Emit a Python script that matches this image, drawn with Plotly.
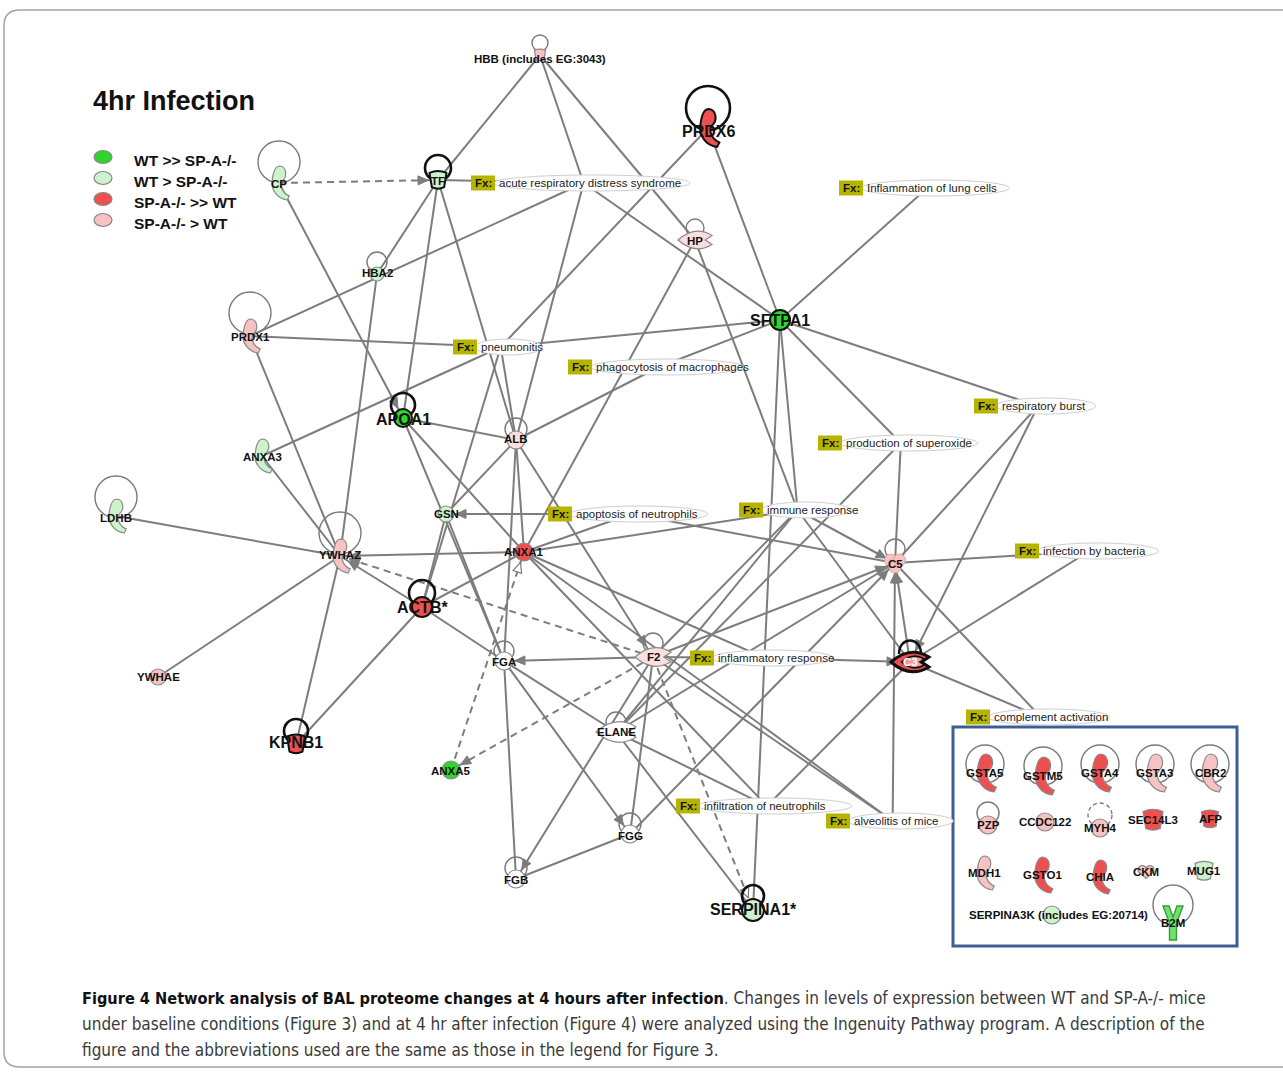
import math
import plotly.graph_objects as go

# ---------------------------------------------------------------------------
# Network content
# ---------------------------------------------------------------------------
gene_names = ["HBB (includes EG:3043)", "PRDX6", "CP", "TF", "HP", "HBA2", "PRDX1",
              "SFTPA1", "APOA1", "ALB", "ANXA3", "LDHB", "GSN", "YWHAZ", "ANXA1",
              "ACTB*", "C5", "F2", "FGA", "C3", "YWHAE", "KPNB1", "ELANE", "ANXA5",
              "FGG", "FGB", "SERPINA1*"]
# expression call: G = WT >> SP-A-/-, g = WT > SP-A-/-, R = SP-A-/- >> WT,
# r = SP-A-/- > WT, p = slightly up in SP-A-/-, n = unchanged
gene_state = ["r", "R", "g", "g", "p", "g", "r", "G", "G", "p", "g", "g", "g", "r",
              "R", "R", "r", "p", "n", "R", "r", "R", "n", "G", "n", "n", "g"]
gene_kind = ["transporter", "enzyme", "enzyme", "transporter", "peptidase", "other",
             "enzyme", "other", "other", "other", "enzyme", "enzyme", "other", "enzyme",
             "other", "other", "cytokine", "peptidase", "other", "complement", "other",
             "transporter", "peptidase", "other", "other", "other", "other"]
focus_genes = ["PRDX6", "TF", "SFTPA1", "APOA1", "ACTB*", "KPNB1", "C3", "SERPINA1*"]

fx_ids = ["ards", "lung", "pneu", "phago", "burst", "superox", "apopt", "immune",
          "bact", "inflam", "compl", "infil", "alveo"]
fx_text = ["acute respiratory distress syndrome", "Inflammation of lung cells",
           "pneumonitis", "phagocytosis of macrophages", "respiratory burst",
           "production of superoxide", "apoptosis of neutrophils", "immune response",
           "infection by bacteria", "inflammatory response", "complement activation",
           "infiltration of neutrophils", "alveolitis of mice"]

# relationships: (source, target, line style, head at target)
edges = [
    ("HBB (includes EG:3043)", "TF", "solid", ""),
    ("HBB (includes EG:3043)", "ards", "solid", ""),
    ("HBB (includes EG:3043)", "HP", "solid", ""),
    ("CP", "TF", "dash", ">"),
    ("CP", "APOA1", "solid", ">"),
    ("TF", "ards", "solid", ""),
    ("TF", "HBA2", "solid", ""),
    ("TF", "APOA1", "solid", ""),
    ("TF", "ALB", "solid", ""),
    ("PRDX1", "ards", "solid", ""),
    ("HBA2", "YWHAZ", "solid", ""),
    ("PRDX6", "pneu", "solid", ""),
    ("PRDX6", "SFTPA1", "solid", ""),
    ("ards", "SFTPA1", "solid", ""),
    ("ards", "ALB", "solid", ""),
    ("lung", "SFTPA1", "solid", ""),
    ("PRDX1", "pneu", "solid", ""),
    ("pneu", "SFTPA1", "solid", ""),
    ("PRDX1", "YWHAZ", "solid", ""),
    ("ANXA3", "pneu", "solid", ""),
    ("ANXA3", "YWHAZ", "solid", ""),
    ("pneu", "ALB", "solid", ""),
    ("pneu", "ACTB*", "solid", ""),
    ("GSN", "ACTB*", "solid", ""),
    ("phago", "ALB", "solid", ""),
    ("phago", "SFTPA1", "solid", ""),
    ("APOA1", "ALB", "solid", ""),
    ("APOA1", "ANXA1", "solid", ""),
    ("APOA1", "FGA", "solid", ""),
    ("ALB", "GSN", "solid", ""),
    ("ALB", "ANXA1", "solid", ""),
    ("ALB", "F2", "solid", ">"),
    ("ALB", "FGA", "solid", ""),
    ("apopt", "GSN", "solid", ">"),
    ("apopt", "C5", "solid", ""),
    ("ANXA1", "apopt", "solid", ""),
    ("ANXA1", "YWHAZ", "solid", ">"),
    ("ACTB*", "YWHAZ", "solid", ">"),
    ("F2", "YWHAZ", "dash", ">"),
    ("ACTB*", "KPNB1", "solid", ""),
    ("YWHAZ", "KPNB1", "solid", ""),
    ("YWHAZ", "YWHAE", "solid", ""),
    ("LDHB", "YWHAZ", "solid", ""),
    ("ACTB*", "ANXA1", "solid", ""),
    ("ACTB*", "FGA", "solid", ""),
    ("GSN", "FGA", "solid", ""),
    ("ANXA5", "ANXA1", "dash", "o"),
    ("F2", "ANXA5", "dash", ">"),
    ("F2", "FGA", "solid", ">"),
    ("FGA", "FGG", "solid", ">"),
    ("FGA", "FGB", "solid", ""),
    ("FGA", "ELANE", "solid", ""),
    ("F2", "FGB", "solid", ">"),
    ("FGG", "FGB", "solid", ""),
    ("F2", "FGG", "solid", ""),
    ("ELANE", "infil", "solid", ""),
    ("ELANE", "SERPINA1*", "solid", ""),
    ("F2", "SERPINA1*", "dash", "o"),
    ("SFTPA1", "SERPINA1*", "solid", ""),
    ("SFTPA1", "burst", "solid", ""),
    ("SFTPA1", "superox", "solid", ""),
    ("SFTPA1", "immune", "solid", ""),
    ("HP", "immune", "solid", ""),
    ("HP", "ANXA1", "solid", ""),
    ("immune", "C5", "solid", ">"),
    ("immune", "C3", "solid", ""),
    ("immune", "ELANE", "solid", ""),
    ("immune", "F2", "solid", ""),
    ("ANXA1", "immune", "solid", ""),
    ("superox", "C5", "solid", ""),
    ("superox", "ELANE", "solid", ""),
    ("burst", "C5", "solid", ""),
    ("burst", "C3", "solid", ">"),
    ("bact", "C5", "solid", ""),
    ("bact", "C3", "solid", ""),
    ("compl", "C5", "solid", ""),
    ("compl", "C3", "solid", ""),
    ("alveo", "C5", "solid", ">"),
    ("C3", "C5", "solid", ">"),
    ("inflam", "C3", "solid", ">"),
    ("F2", "inflam", "solid", ""),
    ("C3", "infil", "solid", ""),
    ("ANXA1", "infil", "solid", ""),
    ("F2", "alveo", "solid", ""),
    ("F2", "C5", "solid", ">"),
    ("FGG", "C5", "solid", ">"),
    ("ANXA1", "inflam", "solid", ""),
    ("ELANE", "C5", "solid", ""),
    ("ANXA1", "alveo", "solid", ""),
]

inset_names = ["GSTA5", "GSTM5", "GSTA4", "GSTA3", "CBR2", "PZP", "CCDC122", "MYH4",
               "SEC14L3", "AFP", "MDH1", "GSTO1", "CHIA", "CKM", "MUG1",
               "SERPINA3K (includes EG:20714)", "B2M"]
inset_state = ["R", "R", "R", "r", "r", "r", "r", "r", "R", "R", "r", "R", "R", "r",
               "g", "g", "G"]
inset_kind = ["enzyme", "enzyme", "enzyme", "enzyme", "enzyme", "other", "other", "other",
              "transporter", "transporter", "enzyme", "enzyme", "enzyme", "kinase",
              "transporter", "other", "receptor"]

legend_states = ["G", "g", "R", "r"]
legend_text = ["WT >> SP-A-/-", "WT > SP-A-/-", "SP-A-/- >> WT", "SP-A-/- > WT"]

caption_lines = [
    "<span style='font-size:16.2px'><b>Figure 4 Network analysis of BAL proteome changes at "
    "4 hours after infection</b></span>"
    "<span style='color:#3a3a3a'>. Changes in levels of expression between WT and SP-A-/- mice</span>",
    "<span style='color:#3a3a3a'>under baseline conditions (Figure 3) and at 4 hr after infection "
    "(Figure 4) were analyzed using the Ingenuity Pathway program. A description of the</span>",
    "<span style='color:#3a3a3a'>figure and the abbreviations used are the same as those in the "
    "legend for Figure 3.</span>",
]

# ---------------------------------------------------------------------------
# Layout of the drawing (pixel canvas, y grows downwards)
# ---------------------------------------------------------------------------
gene_x = [540, 708, 279, 438, 695, 377, 250, 780, 403, 516, 262, 116, 446, 340, 524,
          422, 895, 653, 504, 910, 158, 296, 616, 451, 630, 516, 753]
gene_y = [55, 128, 183, 180, 240, 274, 336, 320, 418, 440, 456, 516, 514, 556, 552,
          607, 563, 657, 661, 662, 677, 744, 732, 770, 834, 879, 910]
gene_size = [11, 38, 34, 17, 34, 7, 34, 10, 9, 9, 34, 34, 8, 34, 9,
             10, 6, 36, 9, 38, 8, 18, 40, 9, 9, 9, 11]
label_dy = [4, 3, 1, 1, 1, -1, 1, 0, 1, -1, 1, 2, 0, -1, 0,
            0, 1, 0, 1, 0, 0, -2, 0, 1, 2, 1, -1]

fx_x = [483, 851, 465, 580, 986, 830, 560, 751, 1027, 702, 978, 688, 838]
fx_y = [183, 188, 347, 367, 406, 443, 514, 510, 551, 658, 717, 806, 821]

inset_x = [985, 1043, 1100, 1155, 1210, 988, 1045, 1100, 1153, 1210, 984, 1042, 1100,
           1146, 1204, 1052, 1173]
inset_y = [773, 776, 773, 773, 773, 825, 822, 828, 820, 819, 873, 875, 877, 872, 871,
           915, 923]
inset_size = [38, 38, 38, 38, 38, 9, 9, 9, 20, 17, 34, 36, 34, 16, 18, 9, 36]

# self loops: node, radius, vertical offset of loop centre, dark?
loops = [("HBB (includes EG:3043)", 8, -12, False), ("PRDX6", 22, -20, True),
         ("CP", 21, -21, False), ("TF", 13, -12, True), ("HP", 9, -12, False),
         ("HBA2", 10, -12, False), ("PRDX1", 21, -23, False), ("APOA1", 12, -13, True),
         ("ALB", 11, -11, False), ("LDHB", 21, -19, False), ("YWHAZ", 21, -23, False),
         ("ACTB*", 13, -14, True), ("C5", 10, -14, False), ("F2", 10, -14, False),
         ("FGA", 10, -10, False), ("KPNB1", 12, -13, True), ("ELANE", 10, -10, False),
         ("FGG", 11, -10, False), ("FGB", 11, -11, False), ("SERPINA1*", 11, -14, True),
         ("GSTA5", 19, -9, False), ("GSTM5", 19, -10, False), ("GSTA4", 19, -9, False),
         ("GSTA3", 19, -9, False), ("CBR2", 19, -9, False), ("PZP", 11, -12, False),
         ("B2M", 20, -18, False)]

FILL = {"G": "#2fd52f", "g": "#cdf3cd", "R": "#ee5050", "r": "#f6c2c2",
        "p": "#fbdede", "n": "#ffffff"}
EDGE = "#7d7d7d"
FONT = "Liberation Sans, Arial, sans-serif"
W, H = 1283, 1078

pos = {n: (x, y) for n, x, y in zip(gene_names, gene_x, gene_y)}
pos.update({n: (x, y) for n, x, y in zip(inset_names, inset_x, inset_y)})
kind = dict(zip(gene_names, gene_kind))
kind.update(zip(inset_names, inset_kind))
size = dict(zip(gene_names, gene_size))
size.update(zip(inset_names, inset_size))


def text_width(s, px=11.5):
    return len(s) * px * 0.47


# functions are reached at the middle of their label
fx_anchor = {}
fx_span = {}
for fid, t, x, y in zip(fx_ids, fx_text, fx_x, fx_y):
    x0 = x + 14
    x1 = x0 + text_width(t)
    fx_span[fid] = (x0, x1, y)
    fx_anchor[fid] = ((x0 + x1) / 2 - 8, y)
    pos[fid] = fx_anchor[fid]


def node_radius(n):
    if n in fx_anchor:
        return 10
    k = kind[n]
    if k == "other":
        return size[n] + 1
    if k in ("peptidase", "complement"):
        return 12
    return 9


def fmt(p):
    return f"{p[0]:.1f},{p[1]:.1f}"


def hook_path(cx, cy, h):
    pts = [(0.02, -0.5), (0.22, -0.48), (0.26, -0.2), (0.10, -0.06), (0.02, 0.02),
           (0.06, 0.28), (0.30, 0.38), (0.24, 0.5), (-0.06, 0.46), (-0.24, 0.2),
           (-0.20, -0.08), (-0.17, -0.34), (-0.1, -0.5), (0.02, -0.5)]
    P = [(cx + a * h, cy + b * h) for a, b in pts]
    return ("M " + fmt(P[0]) + " C " + fmt(P[1]) + " " + fmt(P[2]) + " " + fmt(P[3]) +
            " C " + fmt(P[4]) + " " + fmt(P[5]) + " " + fmt(P[6]) + " L " + fmt(P[7]) +
            " C " + fmt(P[8]) + " " + fmt(P[9]) + " " + fmt(P[10]) +
            " C " + fmt(P[11]) + " " + fmt(P[12]) + " " + fmt(P[13]) + " Z")


def cup_path(cx, cy, w):
    h = w * 0.85
    return (f"M {cx - w / 2:.1f},{cy - h / 2:.1f} Q {cx:.1f},{cy - h / 2 - h * 0.25:.1f} "
            f"{cx + w / 2:.1f},{cy - h / 2:.1f} L {cx + w * 0.36:.1f},{cy + h / 2:.1f} "
            f"Q {cx:.1f},{cy + h / 2 + h * 0.2:.1f} {cx - w * 0.36:.1f},{cy + h / 2:.1f} Z")


def lens_path(cx, cy, w):
    hw, hh = w / 2, w * 0.22
    return (f"M {cx - hw:.1f},{cy:.1f} Q {cx:.1f},{cy - 2 * hh:.1f} {cx + hw:.1f},{cy - hh * 0.6:.1f} "
            f"L {cx + hw * 0.6:.1f},{cy:.1f} L {cx + hw:.1f},{cy + hh * 0.6:.1f} "
            f"Q {cx:.1f},{cy + 2 * hh:.1f} {cx - hw:.1f},{cy:.1f} Z")


def kinase_path(cx, cy, w):
    h = w * 0.8
    return (f"M {cx:.1f},{cy + h / 2:.1f} L {cx - w / 2:.1f},{cy - h * 0.05:.1f} "
            f"Q {cx - w / 2:.1f},{cy - h / 2:.1f} {cx - w / 4:.1f},{cy - h / 2:.1f} "
            f"Q {cx:.1f},{cy - h / 2:.1f} {cx:.1f},{cy - h * 0.15:.1f} "
            f"Q {cx:.1f},{cy - h / 2:.1f} {cx + w / 4:.1f},{cy - h / 2:.1f} "
            f"Q {cx + w / 2:.1f},{cy - h / 2:.1f} {cx + w / 2:.1f},{cy - h * 0.05:.1f} Z")


def receptor_path(cx, cy, h):
    s = h / 36
    pts = [(-10, -17), (-4, -17), (0, -6), (4, -17), (10, -17), (3.5, 0), (3.5, 17),
           (-3.5, 17), (-3.5, 0)]
    return "M " + " L ".join(fmt((cx + a * s, cy + b * s)) for a, b in pts) + " Z"


shapes = []
annotations = []

# outer frame of the figure panel
shapes.append(dict(type="path", layer="below",
                   path="M 1300,10 L 20,10 Q 4,10 4,26 L 4,1052 Q 4,1067 20,1067 L 1300,1067",
                   line=dict(color="#a3a3a3", width=1.5)))

# ---------------------------------------------------------------------------
# Edges and arrow heads
# ---------------------------------------------------------------------------
solid_x, solid_y, dash_x, dash_y = [], [], [], []
head_fx, head_fy, open_x, open_y = [], [], [], []
for a, b, style, head in edges:
    x0, y0 = pos[a]
    x1, y1 = pos[b]
    if style == "dash":
        dash_x += [x0, x1, None]
        dash_y += [y0, y1, None]
    else:
        solid_x += [x0, x1, None]
        solid_y += [y0, y1, None]
    if head:
        d = math.hypot(x1 - x0, y1 - y0)
        ux, uy = (x1 - x0) / d, (y1 - y0) / d
        r = node_radius(b) + 1
        tx, ty = x1 - ux * r, y1 - uy * r
        bx, by = tx - ux * 10, ty - uy * 10
        px, py = -uy * 4.5, ux * 4.5
        xs = [tx, bx + px, bx - px, tx, None]
        ys = [ty, by + py, by - py, ty, None]
        if head == "o":
            open_x += xs
            open_y += ys
        else:
            head_fx += xs
            head_fy += ys

fig = go.Figure()
fig.add_trace(go.Scatter(x=solid_x, y=solid_y, mode="lines",
                         line=dict(color=EDGE, width=2), hoverinfo="skip"))
fig.add_trace(go.Scatter(x=dash_x, y=dash_y, mode="lines",
                         line=dict(color=EDGE, width=2, dash="7px,5px"), hoverinfo="skip"))
fig.add_trace(go.Scatter(x=head_fx, y=head_fy, mode="lines", fill="toself",
                         fillcolor=EDGE, line=dict(color=EDGE, width=1), hoverinfo="skip"))
fig.add_trace(go.Scatter(x=open_x, y=open_y, mode="lines", fill="toself",
                         fillcolor="white", line=dict(color=EDGE, width=1.2), hoverinfo="skip"))

# ---------------------------------------------------------------------------
# Function (Fx) nodes
# ---------------------------------------------------------------------------
for fid, t, x, y in zip(fx_ids, fx_text, fx_x, fx_y):
    x0, x1, yy = fx_span[fid]
    shapes.append(dict(type="circle", x0=x0 - 4, x1=x1 + 4, y0=yy - 8, y1=yy + 8,
                       line=dict(color="#cfcfcf", width=1), fillcolor="white", layer="above"))
    shapes.append(dict(type="rect", x0=x - 12, x1=x + 12, y0=y - 7.5, y1=y + 7.5,
                       line=dict(width=0), fillcolor="#b6b400", layer="above"))
    annotations.append(dict(x=x, y=y, text="<b>Fx:</b>", showarrow=False,
                            font=dict(family=FONT, size=11.5, color="#111")))
    annotations.append(dict(x=x0, y=y, text=t, showarrow=False, xanchor="left",
                            font=dict(family=FONT, size=11.5, color="#222")))

# ---------------------------------------------------------------------------
# Self loops
# ---------------------------------------------------------------------------
for n, r, dy, dark in loops:
    x, y = pos[n]
    cx, cy = x, y + dy
    shapes.append(dict(type="circle", x0=cx - r, x1=cx + r, y0=cy - r, y1=cy + r,
                       line=dict(color="#111" if dark else "#7a7a7a",
                                 width=2.6 if dark else 1.4),
                       layer="above"))

# dashed loop of MYH4
mx, my = pos["MYH4"]
shapes.append(dict(type="circle", x0=mx - 12, x1=mx + 12, y0=my - 25, y1=my - 1,
                   line=dict(color="#7a7a7a", width=1.4, dash="4px,3px"), layer="above"))

# double self-arrow of C3
c3x, c3y = pos["C3"]
shapes.append(dict(type="path", layer="above",
                   path=f"M {c3x - 11},{c3y - 8} C {c3x - 11},{c3y - 26} {c3x + 11},{c3y - 26} {c3x + 11},{c3y - 8}",
                   line=dict(color="#111", width=2.4)))


# ---------------------------------------------------------------------------
# Molecule glyphs
# ---------------------------------------------------------------------------
def glyph(n, state, dark):
    x, y = pos[n]
    k = kind[n]
    s = size[n]
    fill = FILL[state]
    outline = "#111" if dark else "#8a8a8a"
    lw = 2 if dark else 1.2
    if k == "enzyme":
        shapes.append(dict(type="path", path=hook_path(x, y, s), fillcolor=fill,
                           line=dict(color=outline, width=lw), layer="above"))
    elif k == "transporter":
        shapes.append(dict(type="path", path=cup_path(x, y, s), fillcolor=fill,
                           line=dict(color=outline, width=lw), layer="above"))
    elif k == "peptidase":
        shapes.append(dict(type="path", path=lens_path(x, y, s), fillcolor=fill,
                           line=dict(color=outline, width=lw), layer="above"))
    elif k == "complement":
        shapes.append(dict(type="path", path=lens_path(x, y, s), fillcolor=fill,
                           line=dict(color="#111", width=3), layer="above"))
        shapes.append(dict(type="path", path=lens_path(x + 3, y, s * 0.6), fillcolor="#f29a9a",
                           line=dict(color="#111", width=1.5), layer="above"))
    elif k == "cytokine":
        for ox, oy in ((-4.5, -3), (4.5, -3), (0, 4)):
            shapes.append(dict(type="circle", x0=x + ox - s, x1=x + ox + s,
                               y0=y + oy - s, y1=y + oy + s, fillcolor=fill,
                               line=dict(color="#c9a0a0", width=0.8), layer="above"))
    elif k == "kinase":
        shapes.append(dict(type="path", path=kinase_path(x, y, s), fillcolor=fill,
                           line=dict(color=outline, width=lw), layer="above"))
    elif k == "receptor":
        shapes.append(dict(type="path", path=receptor_path(x, y, s), fillcolor="#6ee46e",
                           line=dict(color="#3a9a3a", width=1.4), layer="above"))
    else:
        shapes.append(dict(type="circle", x0=x - s, x1=x + s, y0=y - s, y1=y + s,
                           fillcolor=fill, line=dict(color=outline, width=lw), layer="above"))


for n, st in zip(gene_names, gene_state):
    glyph(n, st, n in focus_genes)
for n, st in zip(inset_names, inset_state):
    glyph(n, st, False)

# gene labels
for n, dy in zip(gene_names, label_dy):
    x, y = pos[n]
    big = n in focus_genes and n not in ("TF", "C3")
    col = "white" if n == "C3" else "#111"
    annotations.append(dict(x=x, y=y + dy, text=f"<b>{n}</b>", showarrow=False,
                            font=dict(family=FONT, size=16 if big else 11.5, color=col)))
for n in inset_names:
    x, y = pos[n]
    if n.startswith("SERPINA3K"):
        annotations.append(dict(x=967, y=y, text=f"<b>{n}</b>", showarrow=False,
                                xanchor="left", font=dict(family=FONT, size=11.5, color="#111")))
    else:
        annotations.append(dict(x=x, y=y, text=f"<b>{n}</b>", showarrow=False,
                                font=dict(family=FONT, size=11.5, color="#111")))

# inset frame
shapes.append(dict(type="rect", x0=953, x1=1237, y0=727, y1=946, layer="below",
                   line=dict(color="#3e5e92", width=3)))

# ---------------------------------------------------------------------------
# Title and key
# ---------------------------------------------------------------------------
annotations.append(dict(x=91, y=101, text="<b>4hr Infection</b>", showarrow=False,
                        xanchor="left", font=dict(family=FONT, size=27, color="#111")))
for i, (st, t) in enumerate(zip(legend_states, legend_text)):
    ly = 157 + i * 21
    shapes.append(dict(type="circle", x0=94, x1=112, y0=ly - 6.5, y1=ly + 6.5,
                       fillcolor=FILL[st], line=dict(color="#888", width=1.2)))
    annotations.append(dict(x=132, y=ly + 3, text=f"<b>{t}</b>", showarrow=False,
                            xanchor="left", font=dict(family=FONT, size=15.5, color="#111")))

# caption
for i, line in enumerate(caption_lines):
    annotations.append(dict(x=80, y=998 + i * 26, text=line, showarrow=False,
                            xanchor="left",
                            font=dict(family="DejaVu Sans Condensed, Liberation Sans Narrow, sans-serif",
                                      size=17, color="#111")))

fig.update_layout(
    width=W, height=H, margin=dict(l=0, r=0, t=0, b=0),
    paper_bgcolor="white", plot_bgcolor="white", showlegend=False,
    xaxis=dict(range=[0, W], visible=False, fixedrange=True),
    yaxis=dict(range=[H, 0], visible=False, fixedrange=True),
    shapes=shapes, annotations=annotations,
)
fig.write_html("out.html")
